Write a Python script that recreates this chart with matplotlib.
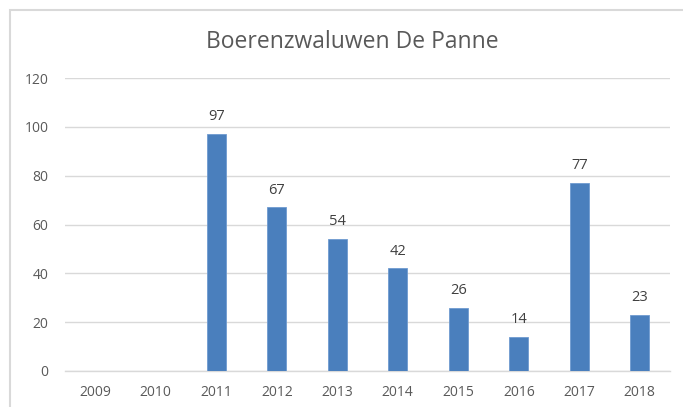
import matplotlib
matplotlib.use("Agg")
import matplotlib.pyplot as plt
from matplotlib.patches import Rectangle
import numpy as np

years = ["2009", "2010", "2011", "2012", "2013", "2014", "2015", "2016", "2017", "2018"]
counts = [np.nan, np.nan, 97, 67, 54, 42, 26, 14, 77, 23]
yticks = [0, 20, 40, 60, 80, 100, 120]
title = "Boerenzwaluwen De Panne"

W, H = 683, 407
fig = plt.figure(figsize=(W / 100, H / 100), dpi=100)
plt.rcParams['font.family'] = ['Open Sans', 'DejaVu Sans']

# chart border (extends past right/bottom edges)
fig.patches.append(Rectangle((10 / W, -0.1), 1.2, (H - 10) / H + 0.1,
                             transform=fig.transFigure, fill=False,
                             edgecolor="#d9d9d9", linewidth=1.5))

ax = fig.add_axes([65 / W, (H - 371) / H, (670 - 65) / W, (371 - 78) / H])
x = np.arange(len(years))
vals = np.array(counts, dtype=float)
bars = ax.bar(x, np.nan_to_num(vals), width=0.31, color="#4a7fbd",
              edgecolor="#6f9bd0", linewidth=0.6, zorder=3)
for xi, v in zip(x, vals):
    if not np.isnan(v):
        ax.text(xi, v + 4, f"{int(v)}", ha="center", va="bottom",
                fontsize=10.5, color="#404040")
    else:
        bars[xi].set_visible(False)

ax.set_xlim(-0.5, len(years) - 0.5)
ax.set_ylim(0, 120)
ax.set_yticks(yticks)
ax.set_xticks(x)
ax.set_xticklabels(years)
ax.grid(axis="y", color="#d9d9d9", linewidth=1, zorder=0)
for s in ["top", "right", "left"]:
    ax.spines[s].set_visible(False)
ax.spines["bottom"].set_color("#d9d9d9")
ax.spines["bottom"].set_linewidth(1)
ax.tick_params(axis="both", length=0, labelsize=10, colors="#595959")
ax.tick_params(axis="y", pad=12)
ax.tick_params(axis="x", pad=10)

fig.text(352 / W, 1 - 42 / H, title, ha="center", va="center",
         fontsize=16.5, color="#595959")

fig.savefig("out.png", dpi=100)
